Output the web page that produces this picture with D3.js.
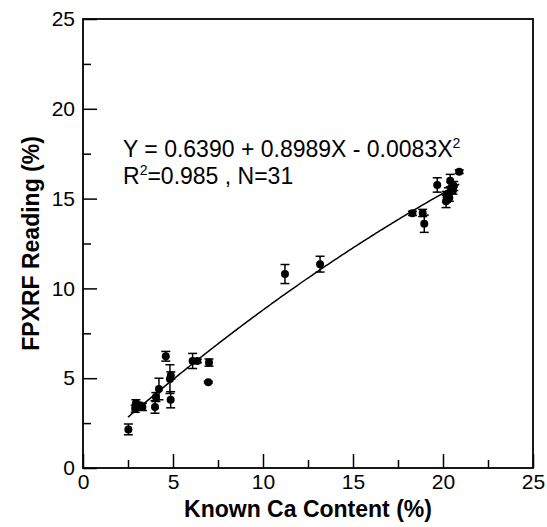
<meta charset="utf-8">
<head>
  <title>FPXRF vs known Ca</title>
</head>
<style>
body { margin:0; background:#fff; }
text { font-family: "Liberation Sans", Arial, sans-serif; }
.axis path { display:none; }
.axis line { stroke:#000; stroke-width:1.5; }
.axis text { font-size:21px; fill:#000; }
</style>
<body>
<div id="content"></div>
<script src="https://cdnjs.cloudflare.com/ajax/libs/d3/7.8.5/d3.min.js"></script>
<script>

const width = 547
const height = 527

// known Ca content (%)
var knownCa = [2.52, 2.94, 2.9, 3.1, 3.3, 4.0, 4.05, 4.22, 4.6, 4.83, 4.88, 4.87,
  6.09, 6.35, 7.0, 6.96, 11.22, 13.17, 18.3, 18.87, 18.96, 19.68, 20.9,
  20.17, 20.2, 20.3, 20.4, 20.45, 20.55, 20.6, 20.35];
// FPXRF reading (%)
var fpxrf = [2.15, 3.6, 3.3, 3.5, 3.4, 3.4, 3.95, 4.4, 6.22, 4.95, 5.15, 3.8,
  5.96, 5.96, 5.87, 4.78, 10.8, 11.35, 14.18, 14.2, 13.6, 15.76, 16.5,
  14.85, 15.1, 15.3, 16.0, 15.6, 15.45, 15.7, 15.05];
// error (+/-)
var errs = [0.3, 0.2, 0.2, 0.15, 0.2, 0.35, 0.25, 0.6, 0.27, 0.8, 0.2, 0.45,
  0.42, 0.1, 0.2, 0.05, 0.53, 0.44, 0.12, 0.2, 0.48, 0.4, 0.1,
  0.35, 0.3, 0.3, 0.35, 0.3, 0.2, 0.25, 0.2];

// fitted curve Y = a + bX + cX^2
var coef = [0.6390, 0.8989, -0.0083];
var fitRange = [2.5, 20.9];

var majorTicks = [0, 5, 10, 15, 20, 25];
var minorTicks = [2.5, 7.5, 12.5, 17.5, 22.5];

var pLeft = 83, pRight = 533, pTop = 19, pBottom = 468;

var x = d3.scaleLinear().domain([0, 25]).range([pLeft, pRight]);
var y = d3.scaleLinear().domain([0, 25]).range([pBottom, pTop]);

const svg = d3.select('#content')
  .append('svg')
    .attr('width', width)
    .attr('height', height)

// axes
svg.append('g').attr('class', 'axis')
  .attr('transform', 'translate(0,' + pBottom + ')')
  .call(d3.axisBottom(x).tickValues(majorTicks).tickSize(-14).tickPadding(6).tickFormat(d3.format('d')))

svg.append('g').attr('class', 'axis')
  .attr('transform', 'translate(0,' + pBottom + ')')
  .call(d3.axisBottom(x).tickValues(minorTicks).tickSize(-8).tickFormat(''))

svg.append('g').attr('class', 'axis')
  .attr('transform', 'translate(' + pLeft + ',0)')
  .call(d3.axisLeft(y).tickValues(majorTicks).tickSize(-14).tickPadding(8).tickFormat(d3.format('d')))

svg.append('g').attr('class', 'axis')
  .attr('transform', 'translate(' + pLeft + ',0)')
  .call(d3.axisLeft(y).tickValues(minorTicks).tickSize(-8).tickFormat(''))

svg.append('rect')
  .attr('x', pLeft).attr('y', pTop)
  .attr('width', pRight - pLeft).attr('height', pBottom - pTop)
  .attr('fill', 'none').attr('stroke', '#000').attr('stroke-width', 1.8)

// fit line
var fx = d3.range(fitRange[0], fitRange[1] + 0.01, 0.1);
var line = d3.line()
  .x(function(d) { return x(d) })
  .y(function(d) { return y(coef[0] + coef[1] * d + coef[2] * d * d) });
svg.append('path')
  .datum(fx)
  .attr('d', line)
  .attr('fill', 'none')
  .attr('stroke', '#000')
  .attr('stroke-width', 1.5)

var pts = knownCa.map(function(d, i) { return { x: d, y: fpxrf[i], e: errs[i] } });

var bars = svg.append('g').attr('stroke', '#000').attr('stroke-width', 1.5);
pts.forEach(function(p) {
  var cx = x(p.x), y0 = y(p.y - p.e), y1 = y(p.y + p.e);
  bars.append('line').attr('x1', cx).attr('x2', cx).attr('y1', y0).attr('y2', y1);
  bars.append('line').attr('x1', cx - 4.5).attr('x2', cx + 4.5).attr('y1', y0).attr('y2', y0);
  bars.append('line').attr('x1', cx - 4.5).attr('x2', cx + 4.5).attr('y1', y1).attr('y2', y1);
});

svg.append('g').selectAll('circle')
  .data(pts)
  .enter()
  .append('circle')
    .attr('cx', function(d) { return x(d.x) })
    .attr('cy', function(d) { return y(d.y) })
    .attr('r', 4)
    .attr('fill', '#000')

// equation
var eq = svg.append('text').attr('x', 123).attr('y', 157).attr('font-size', 23);
eq.append('tspan').text('Y = 0.6390 + 0.8989X - 0.0083X');
eq.append('tspan').attr('font-size', 14).attr('dy', -9).text('2');

var r2 = svg.append('text').attr('x', 123).attr('y', 184).attr('font-size', 23);
r2.append('tspan').text('R');
r2.append('tspan').attr('font-size', 14).attr('dy', -9).text('2');
r2.append('tspan').attr('dy', 9).text('=0.985 , N=31');

// axis titles
svg.append('text')
  .attr('x', (pLeft + pRight) / 2).attr('y', 517)
  .attr('text-anchor', 'middle')
  .attr('font-size', 23).attr('font-weight', 'bold')
  .text('Known Ca Content (%)')

svg.append('text')
  .attr('transform', 'translate(39,' + ((pTop + pBottom) / 2) + ') rotate(-90)')
  .attr('text-anchor', 'middle')
  .attr('font-size', 23).attr('font-weight', 'bold')
  .text('FPXRF Reading (%)')

</script>
</body>
</html>
